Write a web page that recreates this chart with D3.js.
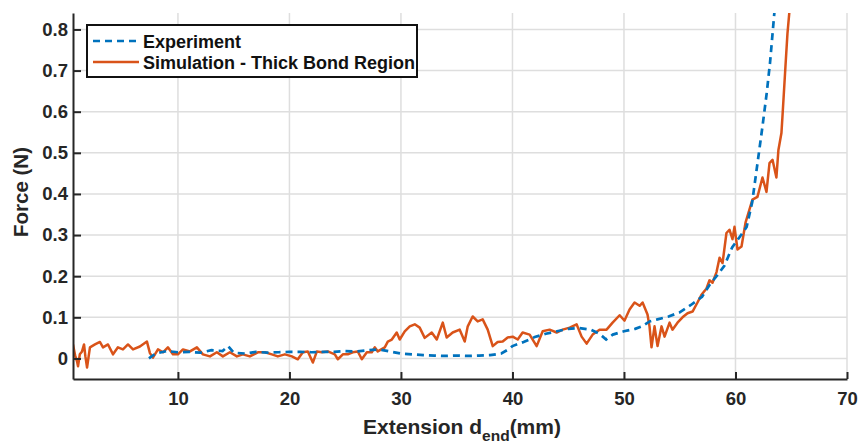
<!DOCTYPE html>
<html>
<head>
<meta charset="utf-8">
<script src="https://cdn.jsdelivr.net/npm/d3@7"></script>
<style>
  html, body { margin: 0; padding: 0; background: #fff; }
  svg { display: block; font-family: "Liberation Sans", Arial, Helvetica, sans-serif; }
</style>
</head>
<body>
<svg id="chart" width="859" height="444"></svg>
<script>
// Tensile test: measured force vs. simulated force (thick bond region)
const seriesNames = ["Experiment", "Simulation - Thick Bond Region"];

const expX = [7.4, 8.0, 9.0, 10.0, 11.0, 12.0, 13.0, 14.0, 14.5, 15.0, 16.0, 17.0, 18.0, 19.0,
  20.0, 21.0, 22.0, 23.0, 24.0, 25.0, 26.0, 27.0, 28.0, 29.0, 30.0, 31.0, 32.0, 33.0, 34.0,
  35.0, 36.0, 37.0, 38.0, 39.0, 39.5, 40.0, 41.0, 42.0, 43.0, 44.0, 45.0, 46.0, 47.0, 47.8,
  48.4, 49.0, 50.0, 51.0, 51.6, 52.3, 53.0, 54.0, 55.0, 56.0, 57.0, 57.7, 58.3, 59.0, 59.7,
  60.5, 61.0, 61.5, 62.0, 62.4, 62.8, 63.1, 63.5];
const expY = [0.0, 0.012, 0.018, 0.015, 0.016, 0.014, 0.02, 0.018, 0.03, 0.014, 0.012, 0.016,
  0.014, 0.015, 0.016, 0.016, 0.015, 0.016, 0.016, 0.018, 0.017, 0.02, 0.022, 0.017, 0.012,
  0.01, 0.008, 0.007, 0.006, 0.007, 0.006, 0.007, 0.008, 0.012, 0.02, 0.03, 0.04, 0.052,
  0.06, 0.066, 0.072, 0.074, 0.07, 0.06, 0.046, 0.058, 0.066, 0.072, 0.078, 0.09, 0.095,
  0.102, 0.112, 0.13, 0.15, 0.18, 0.2, 0.225, 0.27, 0.3, 0.32, 0.38, 0.48, 0.56, 0.645,
  0.72, 0.845];

const simX = [0.59, 0.8, 0.95, 1.04, 1.2, 1.4, 1.58, 1.7, 1.85, 2.11, 2.56, 3.01, 3.28, 3.73,
  4.18, 4.62, 5.07, 5.52, 5.97, 6.59, 7.22, 7.49, 7.76, 8.21, 8.66, 9.1, 9.55, 10.0, 10.45,
  11.08, 11.7, 12.24, 12.87, 13.49, 14.03, 14.66, 15.29, 15.82, 16.45, 17.17, 17.8, 18.42,
  18.96, 19.59, 20.22, 20.75, 21.2, 21.65, 22.1, 22.46, 22.9, 23.44, 24.07, 24.34, 24.79,
  25.23, 25.68, 26.13, 26.49, 26.94, 27.38, 27.65, 27.92, 28.55, 28.82, 29.18, 29.62, 29.89,
  30.34, 30.79, 31.24, 31.68, 32.13, 32.76, 33.21, 33.75, 34.1, 34.64, 35.27, 35.72, 35.99,
  36.43, 36.88, 37.33, 37.78, 38.23, 38.67, 39.12, 39.57, 40.02, 40.47, 40.91, 41.54, 42.17,
  42.71, 43.33, 43.96, 44.5, 45.13, 45.75, 46.2, 46.65, 47.19, 47.81, 48.44, 48.98, 49.61,
  50.05, 50.5, 50.95, 51.4, 51.67, 52.11, 52.29, 52.47, 52.74, 53.01, 53.37, 53.64, 54.09,
  54.35, 54.8, 55.25, 55.7, 56.15, 56.59, 56.95, 57.4, 57.67, 57.94, 58.3, 58.57, 58.84,
  59.19, 59.46, 59.73, 59.91, 60.18, 60.54, 60.9, 61.25, 61.52, 61.97, 62.42, 62.78, 63.05,
  63.32, 63.67, 63.85, 64.12, 64.21, 64.48, 64.66, 64.84, 64.95];
const simY = [0.034, 0.005, -0.007, -0.019, 0.01, 0.017, 0.034, 0.005, -0.022, 0.027, 0.034,
  0.04, 0.027, 0.034, 0.01, 0.027, 0.022, 0.034, 0.022, 0.029, 0.041, 0.013, 0.002, 0.022,
  0.015, 0.027, 0.01, 0.01, 0.022, 0.017, 0.027, 0.01, 0.005, 0.015, 0.005, 0.015, 0.005,
  0.01, 0.005, 0.015, 0.015, 0.01, 0.005, 0.01, 0.005, -0.002, 0.015, 0.017, -0.01, 0.017,
  0.015, 0.017, 0.01, -0.002, 0.01, 0.01, 0.015, 0.017, -0.002, 0.015, 0.015, 0.027, 0.017,
  0.027, 0.041, 0.046, 0.063, 0.046, 0.066, 0.078, 0.083, 0.075, 0.05, 0.063, 0.046, 0.087,
  0.051, 0.063, 0.07, 0.041, 0.078, 0.102, 0.09, 0.095, 0.07, 0.03, 0.04, 0.041, 0.051,
  0.053, 0.046, 0.063, 0.058, 0.03, 0.066, 0.07, 0.063, 0.07, 0.075, 0.083, 0.053, 0.036,
  0.058, 0.07, 0.07, 0.087, 0.105, 0.092, 0.119, 0.136, 0.128, 0.136, 0.107, 0.078, 0.027,
  0.078, 0.03, 0.078, 0.053, 0.087, 0.07, 0.087, 0.1, 0.11, 0.114, 0.136, 0.155, 0.17, 0.19,
  0.184, 0.21, 0.245, 0.232, 0.305, 0.313, 0.29, 0.32, 0.265, 0.272, 0.33, 0.362, 0.386,
  0.393, 0.44, 0.405, 0.475, 0.483, 0.44, 0.507, 0.548, 0.587, 0.71, 0.79, 0.845, 0.9];

const xTicks = [10, 20, 30, 40, 50, 60, 70];
const yTicks = [0, 0.1, 0.2, 0.3, 0.4, 0.5, 0.6, 0.7, 0.8];

const colors = { exp: "#0072BD", sim: "#D95319", axis: "#262626", grid: "#dedede" };

const svg = d3.select("#chart");
const W = 859, H = 444;
const margin = { top: 13, right: 12, bottom: 65, left: 73 };
const iw = W - margin.left - margin.right;
const ih = H - margin.top - margin.bottom;

const x = d3.scaleLinear().domain([simX[0], 70]).range([0, iw]);
const y = d3.scaleLinear().domain([-0.05, 0.84]).range([ih, 0]);

const g = svg.append("g").attr("transform", `translate(${margin.left},${margin.top})`);

g.append("clipPath").attr("id", "plot-clip")
  .append("rect").attr("x", 0).attr("y", 0).attr("width", iw).attr("height", ih);

// grid
const grid = g.append("g");
grid.selectAll("line.gx").data(xTicks).join("line")
  .attr("x1", d => x(d)).attr("x2", d => x(d)).attr("y1", 0).attr("y2", ih)
  .attr("stroke", colors.grid).attr("stroke-width", 1.5);
grid.selectAll("line.gy").data(yTicks).join("line")
  .attr("x1", 0).attr("x2", iw).attr("y1", d => y(d)).attr("y2", d => y(d))
  .attr("stroke", colors.grid).attr("stroke-width", 1.5);

// series
const expData = expX.map((v, i) => [v, expY[i]]);
const simData = simX.map((v, i) => [v, simY[i]]);
const line = d3.line().x(d => x(d[0])).y(d => y(d[1]));

const plot = g.append("g").attr("clip-path", "url(#plot-clip)");
plot.append("path").datum(simData).attr("d", line)
  .attr("fill", "none").attr("stroke", colors.sim).attr("stroke-width", 2.5)
  .attr("stroke-linejoin", "round");
plot.append("path").datum(expData).attr("d", line)
  .attr("fill", "none").attr("stroke", colors.exp).attr("stroke-width", 2.7)
  .attr("stroke-dasharray", "7,5");

// axes
const fmtY = d => d === 0 ? "0" : d3.format(".1f")(d);
const xAxis = d3.axisBottom(x).tickValues(xTicks).tickSizeInner(-7).tickSizeOuter(0).tickPadding(13);
const yAxis = d3.axisLeft(y).tickValues(yTicks).tickFormat(fmtY).tickSizeInner(-8).tickSizeOuter(0).tickPadding(5);

const gx = g.append("g").attr("transform", `translate(0,${ih})`).call(xAxis);
const gy = g.append("g").call(yAxis);
[gx, gy].forEach(a => {
  a.select(".domain").attr("stroke", colors.axis).attr("stroke-width", 2);
  a.selectAll(".tick line").attr("stroke", colors.axis).attr("stroke-width", 2);
  a.selectAll(".tick text").attr("fill", colors.axis)
    .style("font-size", "18.5px").style("font-weight", "bold")
    .style("font-family", "'Liberation Sans', Arial, Helvetica, sans-serif");
});

// axis titles
const xt = svg.append("text")
  .attr("x", margin.left + iw / 2 + 2).attr("y", 434)
  .attr("text-anchor", "middle").attr("fill", colors.axis)
  .style("font-size", "21px").style("font-weight", "bold");
xt.append("tspan").text("Extension d");
xt.append("tspan").attr("dy", 7).style("font-size", "15.5px").text("end");
xt.append("tspan").attr("dy", -7).text("(mm)");

svg.append("text")
  .attr("transform", `translate(28,${margin.top + ih / 2 - 4}) rotate(-90)`)
  .attr("text-anchor", "middle").attr("fill", colors.axis)
  .style("font-size", "20.5px").style("font-weight", "bold")
  .text("Force (N)");

// legend
const lg = g.append("g").attr("transform", "translate(14,12)");
lg.append("rect").attr("x", 0).attr("y", 0).attr("width", 330).attr("height", 52)
  .attr("fill", "#fff").attr("stroke", "#111").attr("stroke-width", 2);
const legendItems = [
  { name: seriesNames[0], color: colors.exp, dash: "7,5", w: 2.7 },
  { name: seriesNames[1], color: colors.sim, dash: null, w: 2.5 }
];
legendItems.forEach((it, i) => {
  const cy = 16 + i * 21;
  lg.append("line").attr("x1", 6).attr("x2", 52).attr("y1", cy).attr("y2", cy)
    .attr("stroke", it.color).attr("stroke-width", it.w)
    .attr("stroke-dasharray", it.dash);
  lg.append("text").attr("x", 56).attr("y", cy + 6.5)
    .attr("fill", "#111").style("font-size", "18px").style("font-weight", "bold")
    .text(it.name);
});
</script>
</body>
</html>
